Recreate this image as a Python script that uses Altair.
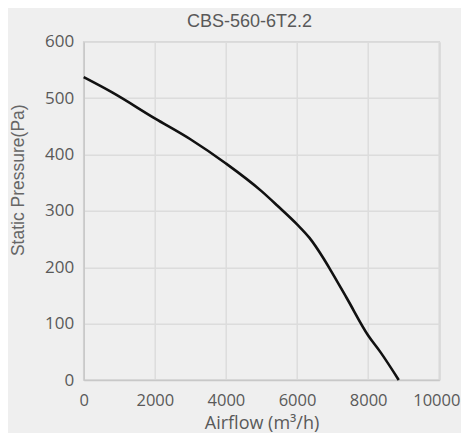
import altair as alt
import pandas as pd

airflow = [0, 800, 2000, 3000, 4000, 5000, 5450, 6000, 6350, 6750, 6950, 7400, 8000, 8350, 8860]
pressure = [537, 510, 464, 427, 384, 335, 309, 276, 252, 215, 194, 145, 79, 49, 0]

x_ticks = [0, 2000, 4000, 6000, 8000, 10000]
y_ticks = [0, 100, 200, 300, 400, 500, 600]

df = pd.DataFrame({"airflow": airflow, "pressure": pressure})

label_color = "#595959"
tick_font = "Open Sans"

chart = alt.Chart(df).mark_line(
    color="#111111", strokeWidth=2.6, interpolate="monotone"
).encode(
    x=alt.X(
        "airflow:Q",
        scale=alt.Scale(domain=[0, 10000], nice=False),
        axis=alt.Axis(
            values=x_ticks,
            format="d",
            title="Airflow (m³/h)",
            titleFont=tick_font,
            titleFontSize=18,
            titleFontWeight="normal",
            titleColor=label_color,
            titleBaseline="alphabetic",
            titleY=48,
            labelFont=tick_font,
            labelFontSize=16.5,
            labelColor=label_color,
            labelPadding=12.5,
            labelFlush=False,
            labelOverlap=False,
            labelOffset={"expr": "datum.value == 10000 ? -3 : 0"},
            ticks=False,
            domainColor="#c8c8c8",
            domainWidth=1.5,
            gridColor="#dcdcdc",
            gridWidth=1.5,
        ),
    ),
    y=alt.Y(
        "pressure:Q",
        scale=alt.Scale(domain=[0, 600], nice=False),
        axis=alt.Axis(
            values=y_ticks,
            format="d",
            title="Static Pressure(Pa)",
            titleFont="Liberation Sans",
            titleFontSize=17.5,
            titleFontWeight="normal",
            titleColor="#666666",
            titleBaseline="middle",
            titleAngle=270,
            titleX=-65,
            titleY=138,
            labelFont=tick_font,
            labelFontSize=17,
            labelColor=label_color,
            labelPadding=10,
            labelFlush=False,
            labelOverlap=False,
            ticks=False,
            domainColor="#c8c8c8",
            domainWidth=1.5,
            gridColor="#dcdcdc",
            gridWidth=1.5,
        ),
    ),
).properties(
    width=355.6,
    height=338.3,
    title=alt.TitleParams(
        text="CBS-560-6T2.2",
        font="Liberation Sans",
        fontSize=18,
        fontWeight="normal",
        color=label_color,
        anchor="middle",
        baseline="alphabetic",
        dx=-12,
        dy=16,
        offset=4,
    ),
    autosize=alt.AutoSizeParams(type="none"),
    padding={"left": 75.7, "top": 33.7, "right": 21.7, "bottom": 53},
    background="#efefef",
).configure_view(
    stroke="#d6d6d6", strokeWidth=1.5
)

chart.save("out.html", embed_options={"renderer": "svg", "actions": False})
